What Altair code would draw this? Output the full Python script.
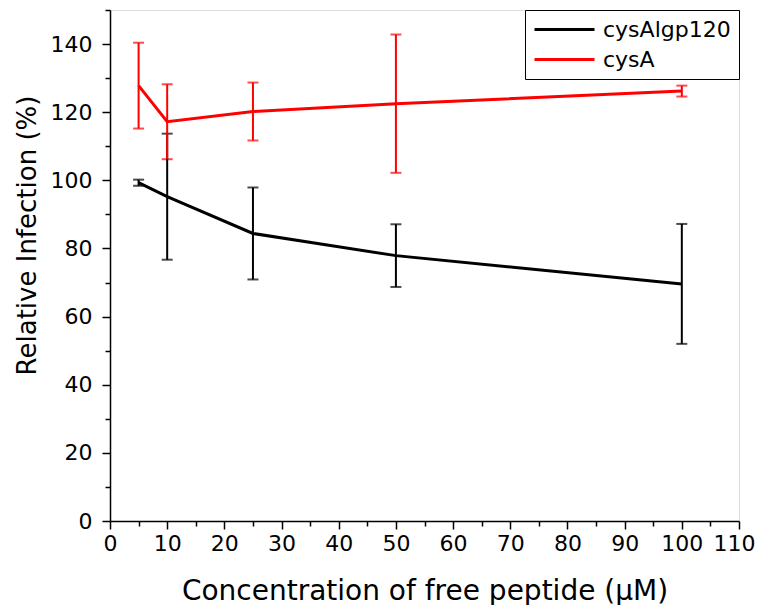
import altair as alt
import pandas as pd

conc = [5, 10, 25, 50, 100]
series_names = ["cysAlgp120", "cysA"]
cysAlgp120_mean = [99.3, 95.2, 84.4, 77.9, 69.6]
cysAlgp120_err = [0.9, 18.5, 13.5, 9.2, 17.6]
cysA_mean = [127.8, 117.2, 120.2, 122.5, 126.2]
cysA_err = [12.6, 11.0, 8.5, 20.3, 1.6]

x_ticks = list(range(0, 111, 5))
y_ticks = list(range(0, 151, 10))

rows = []
for name, means, errs in [("cysAlgp120", cysAlgp120_mean, cysAlgp120_err),
                          ("cysA", cysA_mean, cysA_err)]:
    for c, m, e in zip(conc, means, errs):
        rows.append({"conc": c, "val": m, "lo": m - e, "hi": m + e, "series": name})
df = pd.DataFrame(rows)

FONT = "DejaVu Sans"

legend = alt.Legend(
    title=None,
    orient="top-right",
    offset=0,
    strokeColor="#000000",
    fillColor="#ffffff",
    padding=8,
    symbolType="M-1,0H5",
    symbolSize=400,
    symbolStrokeWidth=3,
    symbolOpacity=1,
    labelFontSize=22,
    labelFont=FONT,
    labelColor="#000000",
    labelOffset=47,
    rowPadding=7,
    cornerRadius=0,
)
cscale = alt.Scale(domain=series_names, range=["#000000", "#ff0000"])
color = alt.Color("series:N", scale=cscale, legend=legend)

xscale = alt.Scale(domain=[0, 110], nice=False)
yscale = alt.Scale(domain=[0, 150], nice=False)

xaxis = alt.Axis(
    title="Concentration of free peptide (μM)",
    values=x_ticks,
    labelExpr="datum.value % 10 === 0 ? datum.label : ''",
    tickSize={"condition": {"test": "datum.value % 10 !== 0", "value": 5}, "value": 8},
    labelOffset={"condition": {"test": "datum.value === 110", "value": -5}, "value": 0},
    grid=False,
    domainColor="#000000",
    domainWidth=1.5,
    tickColor="#000000",
    tickWidth=1.5,
    labelFontSize=22,
    labelFont=FONT,
    labelColor="#000000",
    labelPadding=4,
    titleFontSize=28,
    titleFont=FONT,
    titleFontWeight="normal",
    titleColor="#000000",
    titlePadding=23,
    labelFlush=False,
    labelOverlap=False,
)
yaxis = alt.Axis(
    title="Relative Infection (%)",
    values=y_ticks,
    labelExpr="datum.value % 20 === 0 ? datum.label : ''",
    tickSize={"condition": {"test": "datum.value % 20 !== 0", "value": 5}, "value": 8},
    grid=False,
    domainColor="#000000",
    domainWidth=1.5,
    tickColor="#000000",
    tickWidth=1.5,
    labelFontSize=22,
    labelFont=FONT,
    labelColor="#000000",
    labelPadding=10,
    titleFontSize=26,
    titleFont=FONT,
    titleFontWeight="normal",
    titleColor="#000000",
    titlePadding=10,
    titleY=225,
    labelFlush=False,
    labelOverlap=False,
)

base = alt.Chart(df)

lines = base.mark_line(strokeWidth=3).encode(
    x=alt.X("conc:Q", scale=xscale, axis=xaxis),
    y=alt.Y("val:Q", scale=yscale, axis=yaxis),
    color=color,
)

bars = base.mark_errorbar(ticks={"size": 11, "thickness": 2}, thickness=2).encode(
    x=alt.X("conc:Q", scale=xscale, axis=xaxis),
    y=alt.Y("lo:Q", scale=yscale, axis=yaxis),
    y2="hi:Q",
    color=color,
)

chart = (
    alt.layer(bars, lines)
    .properties(
        width=629,
        height=511,
        autosize=alt.AutoSizeParams(type="none"),
        padding={"left": 102, "top": 2, "right": 17, "bottom": 84},
    )
    .configure_view(stroke="#000000", strokeWidth=1.5)
    .configure(background="#ffffff")
)

chart.save("out.html", embed_options={"renderer": "svg", "actions": False})
